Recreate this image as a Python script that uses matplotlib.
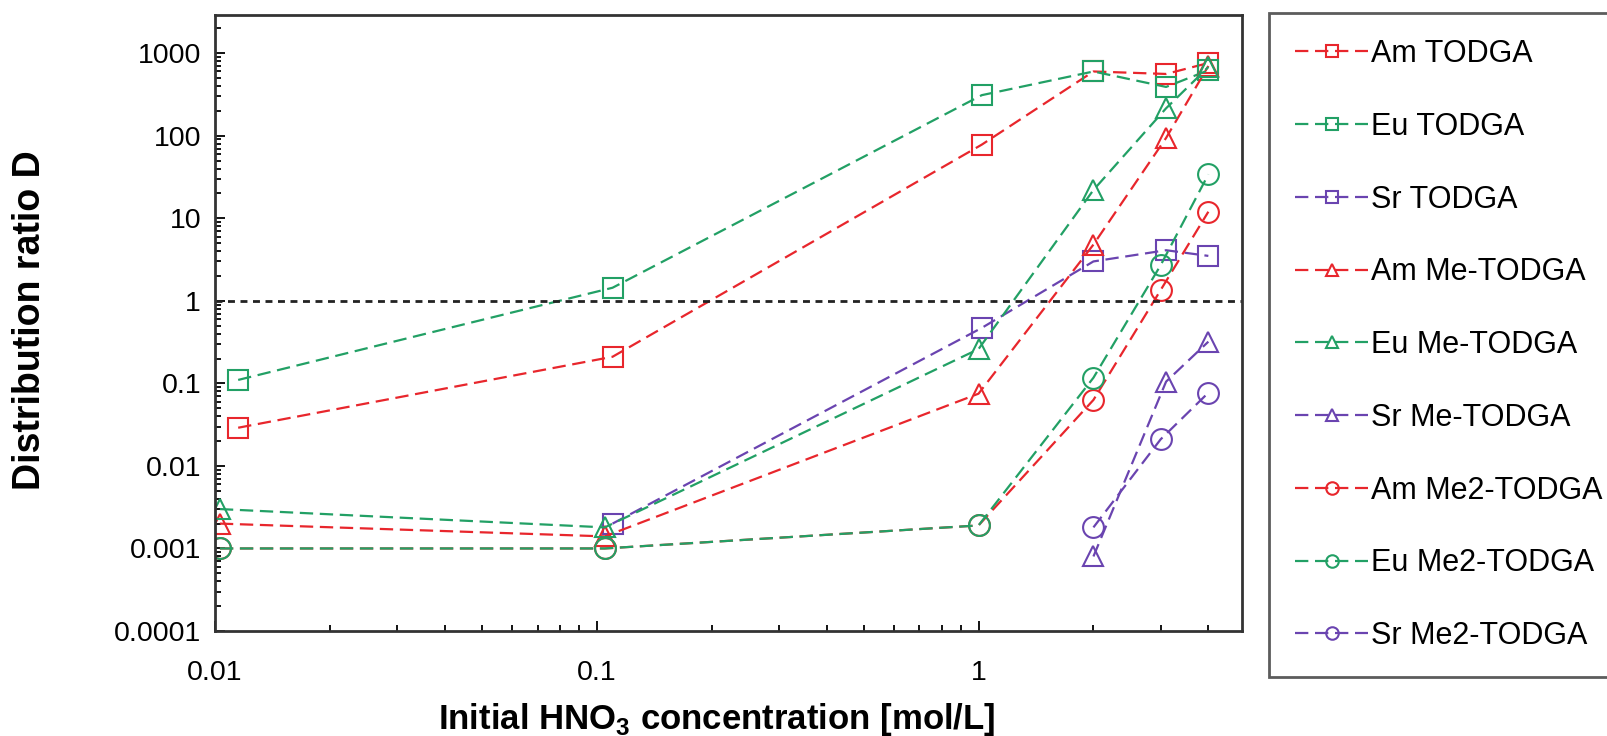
import matplotlib
matplotlib.use("Agg")
import matplotlib.pyplot as plt
from matplotlib.ticker import FixedLocator, LogLocator, NullFormatter

plt.rcParams["font.family"] = ["Liberation Sans", "DejaVu Sans"]
plt.rcParams["mathtext.fontset"] = "custom"
plt.rcParams["mathtext.rm"] = "Liberation Sans"
plt.rcParams["mathtext.bf"] = "Liberation Sans:bold"

# initial HNO3 concentration (mol/L), slightly different per ligand series
x_todga = [0.0115, 0.11, 1.02, 2.0, 3.1, 4.0]
x_sr_todga = [0.11, 1.02, 2.0, 3.1, 4.0]
x_me = [0.0103, 0.105, 1.0, 2.0, 3.1, 4.0]
x_sr_me = [2.0, 3.1, 4.0]
x_me2 = [0.0103, 0.105, 1.0, 2.0, 3.0, 4.0]
x_sr_me2 = [2.0, 3.0, 4.0]

# distribution ratios D
am_todga = [0.029, 0.21, 78, 600, 560, 760]
eu_todga = [0.11, 1.44, 310, 600, 390, 620]
sr_todga = [0.002, 0.47, 3.0, 4.1, 3.5]
am_me = [0.0020, 0.0014, 0.075, 4.8, 94, 700]
eu_me = [0.0030, 0.0018, 0.26, 22, 215, 680]
sr_me = [0.0008, 0.105, 0.32]
am_me2 = [0.001, 0.001, 0.0019, 0.063, 1.35, 12]
eu_me2 = [0.001, 0.001, 0.0019, 0.117, 2.7, 34]
sr_me2 = [0.0018, 0.021, 0.077]

labels = ["Am TODGA", "Eu TODGA", "Sr TODGA",
          "Am Me-TODGA", "Eu Me-TODGA", "Sr Me-TODGA",
          "Am Me2-TODGA", "Eu Me2-TODGA", "Sr Me2-TODGA"]

yticks = [0.0001, 0.001, 0.01, 0.1, 1, 10, 100, 1000]
ytick_labels = ["0.0001", "0.001", "0.01", "0.1", "1", "10", "100", "1000"]
xticks = [0.01, 0.1, 1]
xtick_labels = ["0.01", "0.1", "1"]

red = "#e8262c"
green = "#22a065"
purple = "#6a44b0"

series = [
    (x_todga, am_todga, red, "s"),
    (x_todga, eu_todga, green, "s"),
    (x_sr_todga, sr_todga, purple, "s"),
    (x_me, am_me, red, "^"),
    (x_me, eu_me, green, "^"),
    (x_sr_me, sr_me, purple, "^"),
    (x_me2, am_me2, red, "o"),
    (x_me2, eu_me2, green, "o"),
    (x_sr_me2, sr_me2, purple, "o"),
]

W, H = 1607, 736
fig = plt.figure(figsize=(W / 100, H / 100), dpi=100)
# plot box: 215..1242 px wide, 15..631 px from top
ax = fig.add_axes([215 / W, 1 - 631 / H, (1242 - 215) / W, (631 - 15) / H])

handles = []
for (xs, ys, col, mk), lab in zip(series, labels):
    h, = ax.plot(xs, ys, linestyle=(0, (6, 3)), color=col, linewidth=1.6,
                 marker=mk, markersize=15, markerfacecolor="none",
                 markeredgecolor=col, markeredgewidth=1.5, label=lab)
    handles.append(h)

ax.axhline(1, color="#222222", linestyle=(0, (2.5, 2)), linewidth=2)

ax.set_xscale("log")
ax.set_yscale("log")
ax.set_xlim(0.01, 4.9)
ax.set_ylim(0.0001, 2900)

ax.yaxis.set_major_locator(FixedLocator(yticks))
ax.set_yticklabels(ytick_labels)
ax.yaxis.set_minor_locator(LogLocator(base=10, subs=range(2, 10), numticks=20))
ax.yaxis.set_minor_formatter(NullFormatter())
ax.xaxis.set_major_locator(FixedLocator(xticks))
ax.set_xticklabels(xtick_labels)
ax.xaxis.set_minor_locator(LogLocator(base=10, subs=range(2, 10), numticks=20))
ax.xaxis.set_minor_formatter(NullFormatter())

ax.tick_params(which="both", direction="in", top=False, right=False, width=1.3)
ax.tick_params(which="major", length=7, labelsize=20.5)
ax.tick_params(axis="y", which="major", pad=10)
ax.tick_params(axis="x", which="major", pad=21)
ax.tick_params(which="minor", length=4)
for sp in ax.spines.values():
    sp.set_linewidth(2)
    sp.set_color("#333333")

fig.text(717 / W, 7 / H, r"Initial HNO$_\mathbf{3}$ concentration [mol/L]",
         fontsize=25, fontweight="bold", ha="center", va="baseline")
fig.text(30 / W, 1 - 320 / H, "Distribution ratio D", fontsize=27,
         fontweight="bold", rotation=90, ha="center", va="center")

leg = fig.legend(handles=handles, loc="upper left",
                 bbox_to_anchor=(1269 / W, 1 - 13 / H),
                 frameon=True, fancybox=False, markerscale=0.6,
                 handlelength=2.4, handletextpad=0.08, labelspacing=1.4,
                 borderpad=0.85, borderaxespad=0,
                 prop={"family": "Liberation Sans", "size": 22})
leg.get_frame().set_edgecolor("#333333")
leg.get_frame().set_linewidth(2)

fig.savefig("out.png", dpi=100)
